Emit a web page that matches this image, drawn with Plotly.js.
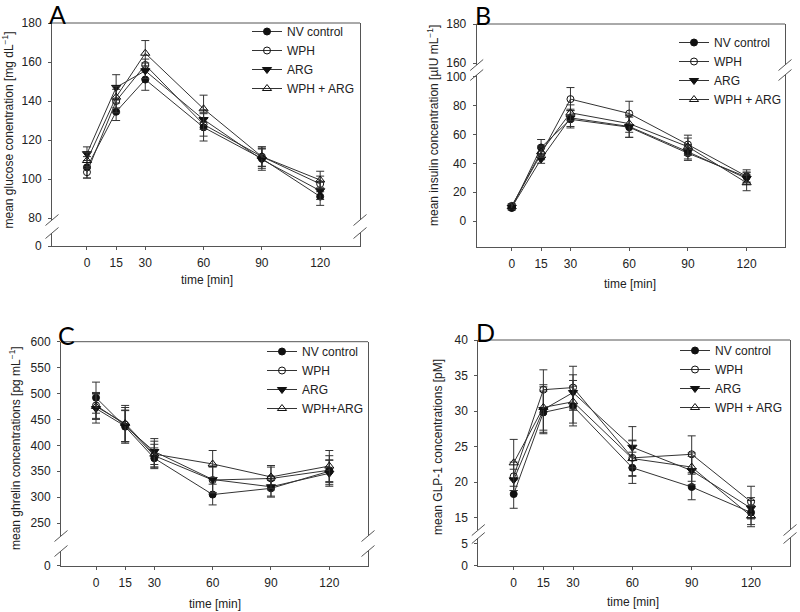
<!DOCTYPE html>
<html>
<head>
<meta charset="utf-8">
<script src="https://cdn.plot.ly/plotly-3.0.1.min.js"></script>
<style>html,body{margin:0;padding:0;background:#fff}#chart{width:800px;height:612px}</style>
</head>
<body>
<div id="chart"></div>
<script>
// ---------- data ----------
const time = [0, 15, 30, 60, 90, 120];
const timeTicks = [0, 15, 30, 60, 90, 120];
const seriesNames = ["NV control", "WPH", "ARG", "WPH + ARG"];
const seriesNamesC = ["NV control", "WPH", "ARG", "WPH+ARG"];

// A: glucose [mg/dL]
const glucoseNV     = [106, 134.5, 151, 126.5, 110.5, 91];
const glucoseWPH    = [103.5, 140, 158.5, 128, 111.5, 97.5];
const glucoseARG    = [113, 147, 155.5, 130.5, 110, 94];
const glucoseWA     = [109.5, 142, 164.5, 136, 111.5, 99.5];
const glucoseNVse   = [5.5, 4.5, 5.5, 7, 5, 4.5];
const glucoseWPHse  = [3, 6, 3, 6, 5, 4];
const glucoseARGse  = [3.5, 6.5, 4, 5, 5.5, 4.5];
const glucoseWAse   = [4, 5.5, 6.5, 7, 5, 4.5];

// B: insulin [µIU/mL]
const insulinNV     = [9, 51, 70.5, 65, 47, 30.5];
const insulinWPH    = [10.5, 46.5, 84.5, 74.5, 53, 31];
const insulinARG    = [9.5, 43, 71.5, 65.5, 48, 29.5];
const insulinWA     = [10, 48, 75, 67.5, 51.5, 26.5];
const insulinNVse   = [1.5, 5.5, 6, 7, 5, 3.5];
const insulinWPHse  = [1.5, 4, 8, 8.5, 6.5, 4.5];
const insulinARGse  = [1.5, 3, 6, 7.5, 5, 4];
const insulinWAse   = [1.5, 4, 5.5, 6, 6, 5.5];

// C: ghrelin [pg/mL]
const ghrelinNV     = [492, 436, 375, 305, 317, 350];
const ghrelinWPH    = [477, 440, 380, 333, 336, 352];
const ghrelinARG    = [471, 437, 388, 334, 320, 346];
const ghrelinWA     = [475, 442, 383, 364, 339, 360];
const ghrelinNVse   = [30, 32, 20, 20, 15, 22];
const ghrelinWPHse  = [25, 33, 22, 25, 22, 28];
const ghrelinARGse  = [28, 30, 25, 25, 20, 25];
const ghrelinWAse   = [25, 35, 25, 26, 22, 30];

// D: GLP-1 [pM]
const glpNV         = [18.3, 29.8, 30.7, 22, 19.3, 15.7];
const glpWPH        = [20.8, 33, 33.3, 23.4, 23.9, 17.2];
const glpARG        = [20.3, 30.2, 32.6, 24.9, 21.6, 16.3];
const glpWA         = [22.7, 30.5, 31.3, 23.3, 22.1, 15.2];
const glpNVse       = [2, 3, 2.8, 2.2, 1.8, 1.7];
const glpWPHse      = [2, 2.8, 3, 2.5, 2.6, 2.2];
const glpARGse      = [1.5, 3.2, 2.5, 2.9, 2, 1.5];
const glpWAse       = [3.3, 3.2, 3, 2.5, 2, 1.5];

// ---------- styling / layout helpers ----------
const W = 800, H = 612;
const PX = x => x / W;
const PY = y => 1 - y / H;
const FONT = "Liberation Sans, Arial, sans-serif";
const INK = "#222";
const LINE = "#333";
const AXC = "#555";

const markerStyles = [
  {symbol: "circle", size: 7, color: "#111", line: {color: "#111", width: 1}},
  {symbol: "circle-open", size: 7, color: "#111", line: {color: "#111", width: 1}},
  {symbol: "triangle-down", size: 8, color: "#111", line: {color: "#111", width: 1}},
  {symbol: "triangle-up-open", size: 8, color: "#111", line: {color: "#111", width: 1}}
];

function makeTraces(values, errs, names, xa, ya, legend) {
  return values.map((v, i) => ({
    type: "scatter", mode: "lines+markers",
    x: time, y: v, name: names[i],
    xaxis: xa, yaxis: ya, legend: legend,
    line: {color: LINE, width: 1},
    marker: markerStyles[i],
    error_y: {type: "data", array: errs[i], visible: true, color: LINE, thickness: 1, width: 4},
    cliponaxis: false
  }));
}

// empty placeholder trace so that each axis segment gets its own subplot
function emptyTrace(xa, ya) {
  return {type: "scatter", mode: "markers", x: [], y: [], xaxis: xa, yaxis: ya,
          showlegend: false, hoverinfo: "skip"};
}

const traces = [].concat(
  makeTraces([glucoseNV, glucoseWPH, glucoseARG, glucoseWA],
             [glucoseNVse, glucoseWPHse, glucoseARGse, glucoseWAse], seriesNames, "x", "y", "legend"),
  makeTraces([insulinNV, insulinWPH, insulinARG, insulinWA],
             [insulinNVse, insulinWPHse, insulinARGse, insulinWAse], seriesNames, "x2", "y4", "legend2"),
  makeTraces([ghrelinNV, ghrelinWPH, ghrelinARG, ghrelinWA],
             [ghrelinNVse, ghrelinWPHse, ghrelinARGse, ghrelinWAse], seriesNamesC, "x3", "y5", "legend3"),
  makeTraces([glpNV, glpWPH, glpARG, glpWA],
             [glpNVse, glpWPHse, glpARGse, glpWAse], seriesNames, "x4", "y7", "legend4"),
  [emptyTrace("x", "y2"), emptyTrace("x2", "y3"), emptyTrace("x3", "y6"), emptyTrace("x4", "y8")]
);

// panel geometry in pixels
const panels = [
  {letter: "A", left: 52, right: 360, xr: [-18, 140.5],
   up: {top: 23, bot: 220, range: [79, 180], ticks: [80, 100, 120, 140, 160, 180]},
   lo: {top: 233, bot: 246, range: [0, 6.7], ticks: [0]},
   yTitle: "mean glucose conentration [mg dL<sup>−1</sup>]", yT: [7.5, 130],
   xT: [207, 280], L: [57.5, -3], leg: [247, 17]},
  {letter: "B", left: 476.7, right: 785, xr: [-17.9, 139.6],
   up: {top: 24, bot: 65, range: [159, 180], ticks: [160, 180]},
   lo: {top: 75, bot: 247, range: [-18, 101.2], ticks: [0, 20, 40, 60, 80, 100]},
   yTitle: "mean insulin concentration [µIU mL<sup>−1</sup>]", yT: [433, 126],
   xT: [630, 284], L: [482.5, -2], leg: [674, 28]},
  {letter: "C", left: 61, right: 368, xr: [-18, 139.9],
   up: {top: 341.7, bot: 536, range: [225, 600], ticks: [250, 300, 350, 400, 450, 500, 550, 600]},
   lo: {top: 551, bot: 565.7, range: [0, 28], ticks: [0]},
   yTitle: "mean ghrelin concentrations [pg mL<sup>−1</sup>]", yT: [15, 448],
   xT: [215, 604], L: [66, 318], leg: [262, 337]},
  {letter: "D", left: 478.3, right: 790, xr: [-17.9, 139.7],
   up: {top: 340, bot: 530, range: [13.24, 40], ticks: [15, 20, 25, 30, 35, 40]},
   lo: {top: 538, bot: 565.7, range: [0, 6.38], ticks: [0, 5]},
   yTitle: "mean GLP-1 concentrations [pM]", yT: [438, 447],
   xT: [633, 602], L: [485.5, 315], leg: [675, 336]}
];

const layout = {
  width: W, height: H,
  margin: {l: 0, r: 0, t: 0, b: 0},
  paper_bgcolor: "#fff", plot_bgcolor: "rgba(0,0,0,0)",
  font: {family: FONT, size: 12, color: INK},
  hovermode: false,
  annotations: [], shapes: []
};

function yAxisCommon(seg, xa) {
  return {
    domain: [PY(seg.bot), PY(seg.top)], range: seg.range, anchor: xa,
    tickmode: "array", tickvals: seg.ticks,
    showline: true, linecolor: AXC, linewidth: 1, mirror: true,
    ticks: "outside", ticklen: 3, tickcolor: AXC, ticklabelstandoff: 4,
    showgrid: false, zeroline: false,
    tickfont: {family: FONT, size: 12, color: INK}
  };
}

panels.forEach((p, i) => {
  const xn = i === 0 ? "xaxis" : "xaxis" + (i + 1);
  const xa = i === 0 ? "x" : "x" + (i + 1);
  const upIdx = 2 * i + 1, loIdx = 2 * i + 2;
  const upName = upIdx === 1 ? "yaxis" : "yaxis" + upIdx;
  const upRef = upIdx === 1 ? "y" : "y" + upIdx;
  const loName = "yaxis" + loIdx;
  const loRef = "y" + loIdx;
  layout[xn] = {
    domain: [PX(p.left), PX(p.right)], range: p.xr, anchor: loRef,
    tickmode: "array", tickvals: timeTicks,
    showline: true, linecolor: AXC, linewidth: 1,
    ticks: "outside", ticklen: 3, tickcolor: AXC, ticklabelstandoff: 3,
    showgrid: false, zeroline: false,
    tickfont: {family: FONT, size: 12, color: INK}
  };
  layout[upName] = yAxisCommon(p.up, xa);
  layout[loName] = yAxisCommon(p.lo, xa);

  // top frame line
  layout.shapes.push({type: "line", xref: xa + " domain", yref: upRef + " domain",
    x0: 0, x1: 1, y0: 1, y1: 1, line: {color: AXC, width: 1}});
  // break marks
  [p.left, p.right].forEach(xp => {
    [p.up.bot, p.lo.top].forEach(yp => {
      layout.shapes.push({type: "line", xref: "paper", yref: "paper",
        x0: PX(xp - 6.5), y0: PY(yp + 5.5), x1: PX(xp + 6.5), y1: PY(yp - 5.5),
        line: {color: AXC, width: 1}});
    });
  });

  // titles & panel letter
  layout.annotations.push({text: p.yTitle, textangle: -90, xref: "paper", yref: "paper",
    x: PX(p.yT[0]), y: PY(p.yT[1]), xanchor: "center", yanchor: "middle", showarrow: false,
    font: {family: FONT, size: 12, color: INK}});
  layout.annotations.push({text: "time [min]", xref: "paper", yref: "paper",
    x: PX(p.xT[0]), y: PY(p.xT[1]), xanchor: "center", yanchor: "middle", showarrow: false,
    font: {family: FONT, size: 12, color: INK}});
  layout.annotations.push({text: p.letter, xref: "paper", yref: "paper",
    x: PX(p.L[0]), y: PY(p.L[1]), xanchor: "center", yanchor: "top", showarrow: false,
    font: {family: "Lato, Open Sans, sans-serif", size: 25, color: "#000"}});

  const legName = i === 0 ? "legend" : "legend" + (i + 1);
  layout[legName] = {
    x: PX(p.leg[0]), y: PY(p.leg[1]), xanchor: "left", yanchor: "top",
    xref: "paper", yref: "paper",
    bgcolor: "rgba(0,0,0,0)", borderwidth: 0, itemwidth: 30,
    font: {family: FONT, size: 12, color: INK}, tracegroupgap: 0
  };
});

Plotly.newPlot("chart", traces, layout, {staticPlot: true, displayModeBar: false});
</script>
</body>
</html>
